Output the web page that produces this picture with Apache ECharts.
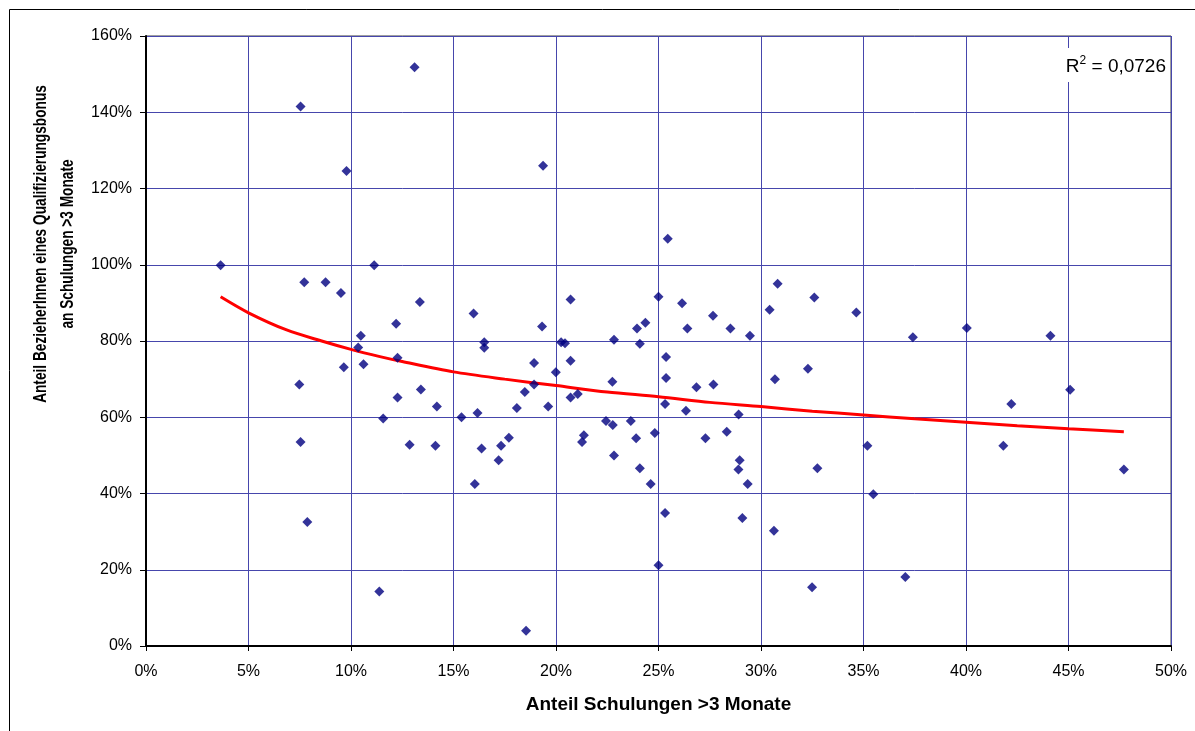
<!DOCTYPE html>
<html>
<head>
<meta charset="utf-8">
<script src="https://cdn.jsdelivr.net/npm/echarts@6/dist/echarts.min.js"></script>
<style>
html,body{margin:0;padding:0;background:#fff;}
#chart{width:1195px;height:731px;}
</style>
</head>
<body>
<div id="chart"></div>
<script>
// Anteil Schulungen >3 Monate (%)
const xValues = [3.64, 7.54, 13.10, 9.78, 19.37, 11.13, 7.72, 8.76, 9.51, 13.36,
  15.98, 12.20, 19.32, 10.48, 10.35, 9.65, 10.61, 12.27, 7.48, 12.27,
  13.41, 14.19, 11.57, 15.39, 16.17, 16.50, 16.50, 18.93, 19.99, 18.48,
  18.93, 18.09, 19.62, 7.54, 12.86, 14.12, 16.37, 17.32, 17.70, 17.20,
  16.04, 7.87, 11.38, 18.54, 25.45, 20.71, 25.00, 26.15, 30.81, 30.42,
  32.60, 34.65, 27.66, 24.36, 23.95, 26.41, 28.51, 29.46, 22.83, 20.25,
  20.44, 24.09, 20.71, 25.37, 25.37, 30.68, 32.29, 22.75, 26.85, 27.68,
  20.71, 21.06, 25.32, 26.34, 28.91, 22.44, 22.77, 23.65, 21.36, 21.27,
  23.91, 24.82, 27.29, 28.33, 22.83, 24.09, 24.62, 28.96, 28.90, 29.35,
  32.75, 25.32, 29.09, 30.63, 25.00, 32.49, 35.19, 37.41, 40.04, 44.12,
  42.21, 45.08, 41.82, 35.48, 47.70, 37.04];
// Anteil BezieherInnen eines Qualifizierungsbonus an Schulungen >3 Monate (%)
const yValues = [99.9, 141.5, 151.8, 124.6, 126.0, 99.9, 95.4, 95.4, 92.6, 90.2,
  87.2, 84.5, 83.8, 81.4, 78.3, 73.1, 73.9, 75.6, 68.6, 65.2,
  67.3, 62.8, 59.7, 60.0, 61.1, 79.7, 78.2, 74.2, 71.8, 66.6,
  68.6, 62.4, 62.8, 53.5, 52.8, 52.5, 51.8, 52.5, 54.6, 48.7,
  42.5, 32.5, 14.3, 4.0, 106.8, 90.9, 91.6, 89.9, 95.0, 88.2,
  91.4, 87.5, 86.6, 84.8, 83.3, 83.3, 83.3, 81.4, 80.3, 79.7,
  79.4, 79.3, 74.8, 75.8, 70.3, 70.0, 72.7, 69.3, 67.9, 68.6,
  65.2, 66.1, 63.5, 61.7, 60.7, 59.0, 58.0, 59.0, 55.3, 53.5,
  54.5, 55.9, 54.5, 56.2, 50.0, 46.6, 42.5, 48.7, 46.3, 42.5,
  46.6, 34.9, 33.6, 30.2, 21.2, 15.4, 52.5, 81.0, 83.4, 81.4,
  63.5, 67.2, 52.5, 39.8, 46.3, 18.1];
// Trend line
const trendX = [3.64, 5, 6.86, 8.57, 10, 11.41, 12.5, 15, 17.5, 20, 22.5, 25, 27.5, 30, 32.5, 35, 37.5, 40, 42.5, 45, 47.7];
const trendY = [91.6, 87.4, 82.9, 80.0, 77.8, 75.9, 74.6, 71.9, 70.0, 68.3, 66.6, 65.4, 63.9, 62.8, 61.6, 60.6, 59.6, 58.7, 57.8, 57.0, 56.2];
const xTicks = [0, 5, 10, 15, 20, 25, 30, 35, 40, 45, 50];
const yTicks = [0, 20, 40, 60, 80, 100, 120, 140, 160];
const r2Text = '0,0726';
const xTitle = 'Anteil Schulungen >3 Monate';
const yTitle1 = 'Anteil BezieherInnen eines Qualifizierungsbonus';
const yTitle2 = 'an Schulungen >3 Monate';

const FONT = '"Liberation Sans", Arial, sans-serif';
const chart = echarts.init(document.getElementById('chart'), null, {renderer: 'canvas'});

const option = {
  animation: false,
  backgroundColor: '#ffffff',
  grid: {
    left: 146, right: 24, top: 36, bottom: 85,
    show: true, borderColor: '#404040', borderWidth: 1, backgroundColor: '#ffffff'
  },
  xAxis: {
    type: 'value',
    min: xTicks[0], max: xTicks[xTicks.length - 1], interval: 5,
    name: xTitle, nameLocation: 'middle', nameGap: 49,
    nameTextStyle: {fontFamily: FONT, fontSize: 19, fontWeight: 'bold', color: '#000'},
    axisLine: {show: true, lineStyle: {color: '#000', width: 2}},
    axisTick: {show: true, inside: false, length: 5, lineStyle: {color: '#000', width: 1}},
    axisLabel: {margin: 18, fontFamily: FONT, fontSize: 16, color: '#000', formatter: '{value}%'},
    splitLine: {show: true, lineStyle: {color: '#4646ac', width: 1}}
  },
  yAxis: {
    type: 'value',
    min: yTicks[0], max: yTicks[yTicks.length - 1], interval: 20,
    axisLine: {show: true, lineStyle: {color: '#000', width: 2}},
    axisTick: {show: true, inside: false, length: 6, lineStyle: {color: '#000', width: 1}},
    axisLabel: {margin: 14, fontFamily: FONT, fontSize: 16, color: '#000', formatter: '{value}%'},
    splitLine: {show: true, lineStyle: {color: '#4646ac', width: 1}}
  },
  series: [
    {
      type: 'line',
      data: trendX.map((x, i) => [x, trendY[i]]),
      smooth: 0.3,
      showSymbol: false,
      symbol: 'none',
      lineStyle: {color: '#ff0000', width: 3},
      z: 2
    },
    {
      type: 'scatter',
      data: xValues.map((x, i) => [x, yValues[i]]),
      symbol: 'diamond',
      symbolSize: 10,
      itemStyle: {color: '#000080'},
      z: 3
    }
  ],
  graphic: [
    {
      type: 'rect', silent: true, z: -1,
      shape: {x: 9.5, y: 9.5, width: 1300, height: 800},
      style: {fill: 'none', stroke: '#000', lineWidth: 1}
    },
    {
      type: 'text', silent: true, z: 10,
      x: 54.5, y: 244, rotation: Math.PI / 2, scaleX: 0.76, scaleY: 1,
      style: {
        text: yTitle1 + '\n' + yTitle2,
        fontFamily: FONT, fontSize: 18, fontWeight: 'bold', fill: '#000',
        lineHeight: 27, align: 'center', verticalAlign: 'middle'
      }
    },
    {
      type: 'rect', silent: true, z: 9,
      shape: {x: 1061, y: 48, width: 108, height: 34},
      style: {fill: '#fff', stroke: 'none'}
    },
    {
      type: 'text', silent: true, z: 10,
      x: 1079.5, y: 67,
      style: {text: 'R', fontFamily: FONT, fontSize: 19, fill: '#000', align: 'right', verticalAlign: 'middle'}
    },
    {
      type: 'text', silent: true, z: 10,
      x: 1079.5, y: 60.5,
      style: {text: '2', fontFamily: FONT, fontSize: 12, fill: '#000', align: 'left', verticalAlign: 'middle'}
    },
    {
      type: 'text', silent: true, z: 10,
      x: 1166, y: 67,
      style: {text: '= ' + r2Text, fontFamily: FONT, fontSize: 19, fill: '#000', align: 'right', verticalAlign: 'middle'}
    }
  ]
};
chart.setOption(option);
</script>
</body>
</html>
